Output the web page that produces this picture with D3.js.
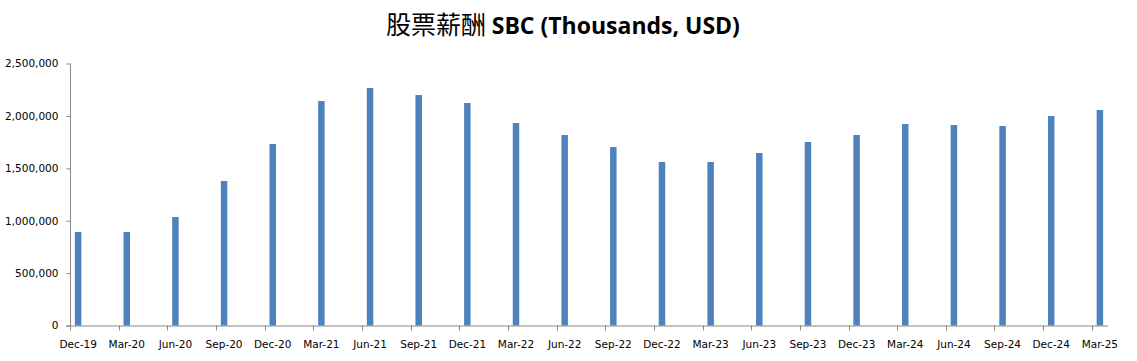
<!DOCTYPE html>
<html>
<head>
<meta charset="utf-8">
<script src="https://cdn.jsdelivr.net/npm/d3@7"></script>
<style>
  html, body { margin: 0; padding: 0; background: #fff; }
  svg { display: block; }
</style>
</head>
<body>
<svg id="chart" width="1137" height="361"></svg>
<script>
// quarter-end labels and stock-based compensation (thousands USD)
const quarters = ['Dec-19', 'Mar-20', 'Jun-20', 'Sep-20', 'Dec-20', 'Mar-21', 'Jun-21', 'Sep-21',
  'Dec-21', 'Mar-22', 'Jun-22', 'Sep-22', 'Dec-22', 'Mar-23', 'Jun-23', 'Sep-23',
  'Dec-23', 'Mar-24', 'Jun-24', 'Sep-24', 'Dec-24', 'Mar-25'];
const sbcValues = [892000, 892000, 1035000, 1379000, 1732000, 2142000, 2266000, 2199000,
  2123000, 1932000, 1818000, 1703000, 1560000, 1560000, 1646000, 1751000,
  1818000, 1923000, 1913000, 1904000, 1999000, 2056000];
const yTicks = [0, 500000, 1000000, 1500000, 2000000, 2500000];

const svg = d3.select('#chart');
const plotLeft = 70, plotRight = 1108, plotTop = 63.5, plotBottom = 325.5;
const axisColor = '#868686';
const barColor = '#4F81BD';

// date axis with monthly base unit: one slot per month, bar in the slot of each quarter month
const monthsOf = q => {
  const mon = ['Jan','Feb','Mar','Apr','May','Jun','Jul','Aug','Sep','Oct','Nov','Dec'].indexOf(q.slice(0, 3));
  return (2000 + +q.slice(4)) * 12 + mon;
};
const m0 = monthsOf(quarters[0]);
const mEnd = monthsOf(quarters[quarters.length - 1]) + 1;
const x = d3.scaleLinear().domain([m0, mEnd]).range([plotLeft, plotRight]);
const step = x(m0 + 1) - x(m0);
const y = d3.scaleLinear().domain([0, 2500000]).range([plotBottom, plotTop]);

// title
const title = svg.append('text')
  .attr('x', 563).attr('y', 34)
  .attr('text-anchor', 'middle')
  .attr('fill', '#000');
title.append('tspan')
  .attr('font-family', '"Noto Sans CJK TC", "Noto Sans CJK SC", sans-serif')
  .attr('font-size', '25px')
  .attr('font-weight', 'normal')
  .text('股票薪酬 ');
title.append('tspan')
  .attr('font-family', '"Open Sans", "Liberation Sans", sans-serif')
  .attr('font-size', '23px')
  .attr('font-weight', 'bold')
  .text('SBC (Thousands, USD)');

// y axis
const yAxis = svg.append('g')
  .attr('transform', `translate(${plotLeft + 0.5},0)`)
  .call(d3.axisLeft(y).tickValues(yTicks).tickSize(4).tickPadding(8)
    .tickFormat(d3.format(',')));
yAxis.select('.domain').attr('stroke', axisColor).attr('d', `M0,${plotTop}V${plotBottom}`);
yAxis.selectAll('.tick line').attr('stroke', axisColor);
yAxis.selectAll('.tick text')
  .attr('font-family', '"DejaVu Sans", Verdana, sans-serif')
  .attr('font-size', '10.5px')
  .attr('fill', '#000');

// x axis
const xAxisG = svg.append('g');
xAxisG.append('line')
  .attr('x1', plotLeft - 4).attr('x2', plotRight)
  .attr('y1', plotBottom + 0.5).attr('y2', plotBottom + 0.5)
  .attr('stroke', axisColor);
xAxisG.selectAll('line.tick')
  .data(quarters)
  .join('line')
  .attr('class', 'tick')
  .attr('x1', d => Math.round(x(monthsOf(d))) + 0.5)
  .attr('x2', d => Math.round(x(monthsOf(d))) + 0.5)
  .attr('y1', plotBottom).attr('y2', plotBottom + 5)
  .attr('stroke', axisColor);
xAxisG.selectAll('text')
  .data(quarters)
  .join('text')
  .attr('x', d => x(monthsOf(d)) + step / 2)
  .attr('y', plotBottom + 22)
  .attr('text-anchor', 'middle')
  .attr('font-family', '"DejaVu Sans", Verdana, sans-serif')
  .attr('font-size', '10.5px')
  .attr('fill', '#000')
  .text(d => d);

// bars (gap width 150%: bar = slot / 2.5)
const barW = step / 2.5;
svg.append('g')
  .selectAll('rect')
  .data(quarters.map((q, i) => ({ q, v: sbcValues[i] })))
  .join('rect')
  .attr('x', d => x(monthsOf(d.q)) + (step - barW) / 2)
  .attr('y', d => y(d.v))
  .attr('width', barW)
  .attr('height', d => plotBottom - y(d.v))
  .attr('fill', barColor);
</script>
</body>
</html>
